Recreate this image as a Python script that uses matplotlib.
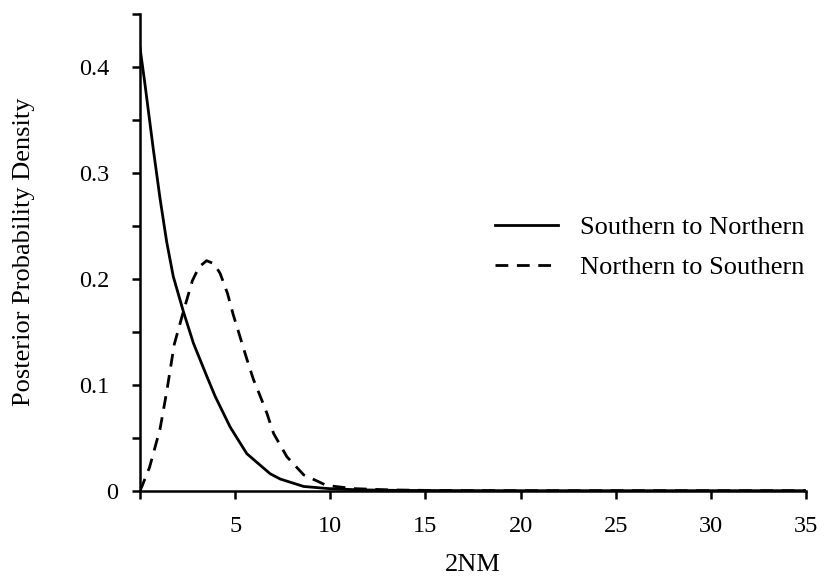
import numpy as np
import matplotlib
matplotlib.use('Agg')
import matplotlib.pyplot as plt
import matplotlib.transforms as mtransforms
from matplotlib.ticker import MultipleLocator, FixedLocator, FixedFormatter

# values
x_s2n = [0, 0.25, 0.5, 0.7, 1.05, 1.4, 1.75, 2.28, 2.81, 3.51, 3.95,
         4.74, 5.61, 6.32, 6.84, 7.37, 8.6, 9.9, 11.5, 13.5, 16, 20, 35]
y_s2n = [0.418, 0.385, 0.35, 0.322, 0.276, 0.235, 0.202, 0.169, 0.139,
         0.108, 0.089, 0.060, 0.035, 0.024, 0.016, 0.011, 0.004, 0.002,
         0.0008, 0.0003, 0.0001, 0.0, 0.0]

x_n2s = [0, 0.1, 0.5, 1.05, 1.4, 1.8, 2.28, 2.75, 3.1, 3.5, 3.9, 4.21,
         4.6, 4.9, 5.26, 5.6, 5.96, 6.3, 6.67, 7.02, 7.72, 8.6, 9.8, 11.2,
         13, 15, 17, 20, 35]
y_n2s = [0.0, 0.004, 0.022, 0.058, 0.093, 0.138, 0.169, 0.198, 0.211,
         0.217, 0.214, 0.205, 0.186, 0.166, 0.145, 0.125, 0.105, 0.090,
         0.073, 0.054, 0.032, 0.015, 0.005, 0.002, 0.0008, 0.0003, 0.0001,
         0.0, 0.0]

series_labels = ['Southern to Northern', 'Northern to Southern']
x_ticks = [0, 5, 10, 15, 20, 25, 30, 35]
x_ticklabels = ['', '5', '10', '15', '20', '25', '30', '35']
y_ticks = [0, 0.1, 0.2, 0.3, 0.4]
y_ticklabels = ['0', '0.1', '0.2', '0.3', '0.4']

plt.rc('font', family='Liberation Serif')
tick_size = 17.5
label_size = 19

fig = plt.figure(figsize=(8.24, 5.82), dpi=100)
ax = fig.add_axes([140/824, 1-490.7/582, (806-140)/824, (490.7-13.7)/582])

ax.plot(x_s2n, y_s2n, '-', color='black', linewidth=2.0,
        label=series_labels[0])
ax.plot(x_n2s, y_n2s, color='black', linewidth=2.0,
        linestyle=(0, (4.6, 3.1)), label=series_labels[1])

ax.set_xlim(0, 35)
ax.set_ylim(0, 0.45)
for side in ['top', 'right']:
    ax.spines[side].set_visible(False)
for side in ['left', 'bottom']:
    ax.spines[side].set_linewidth(1.8)

ax.xaxis.set_major_locator(FixedLocator(x_ticks))
ax.xaxis.set_major_formatter(FixedFormatter(x_ticklabels))
ax.yaxis.set_major_locator(FixedLocator(y_ticks))
ax.yaxis.set_major_formatter(FixedFormatter(y_ticklabels))
ax.yaxis.set_minor_locator(MultipleLocator(0.05))
ax.tick_params(which='both', direction='out', length=6, width=1.8,
               labelsize=tick_size)
ax.tick_params(axis='x', pad=12)
ax.tick_params(axis='y', pad=16)

ax.set_xlabel('2NM', fontsize=label_size, va='top')
ax.xaxis.set_label_coords(0.5, -0.132)
ax.set_ylabel('Posterior Probability Density', fontsize=label_size)
ax.yaxis.set_label_coords(-0.158, 0.5)

ax.legend(loc='upper left', bbox_to_anchor=(495/824, 1-216/582),
          bbox_transform=fig.transFigure, frameon=False,
          fontsize=label_size, handlelength=2.4, handletextpad=0.83,
          labelspacing=0.62, borderpad=0, borderaxespad=0)

# the '0' label sits a little closer to the axis in the reference
fig.canvas.draw()
zero_label = ax.yaxis.get_major_ticks()[0].label1
zero_label.set_transform(zero_label.get_transform() +
                         mtransforms.ScaledTranslation(6/72, 0,
                                                       fig.dpi_scale_trans))

fig.savefig('out.png', dpi=100)
